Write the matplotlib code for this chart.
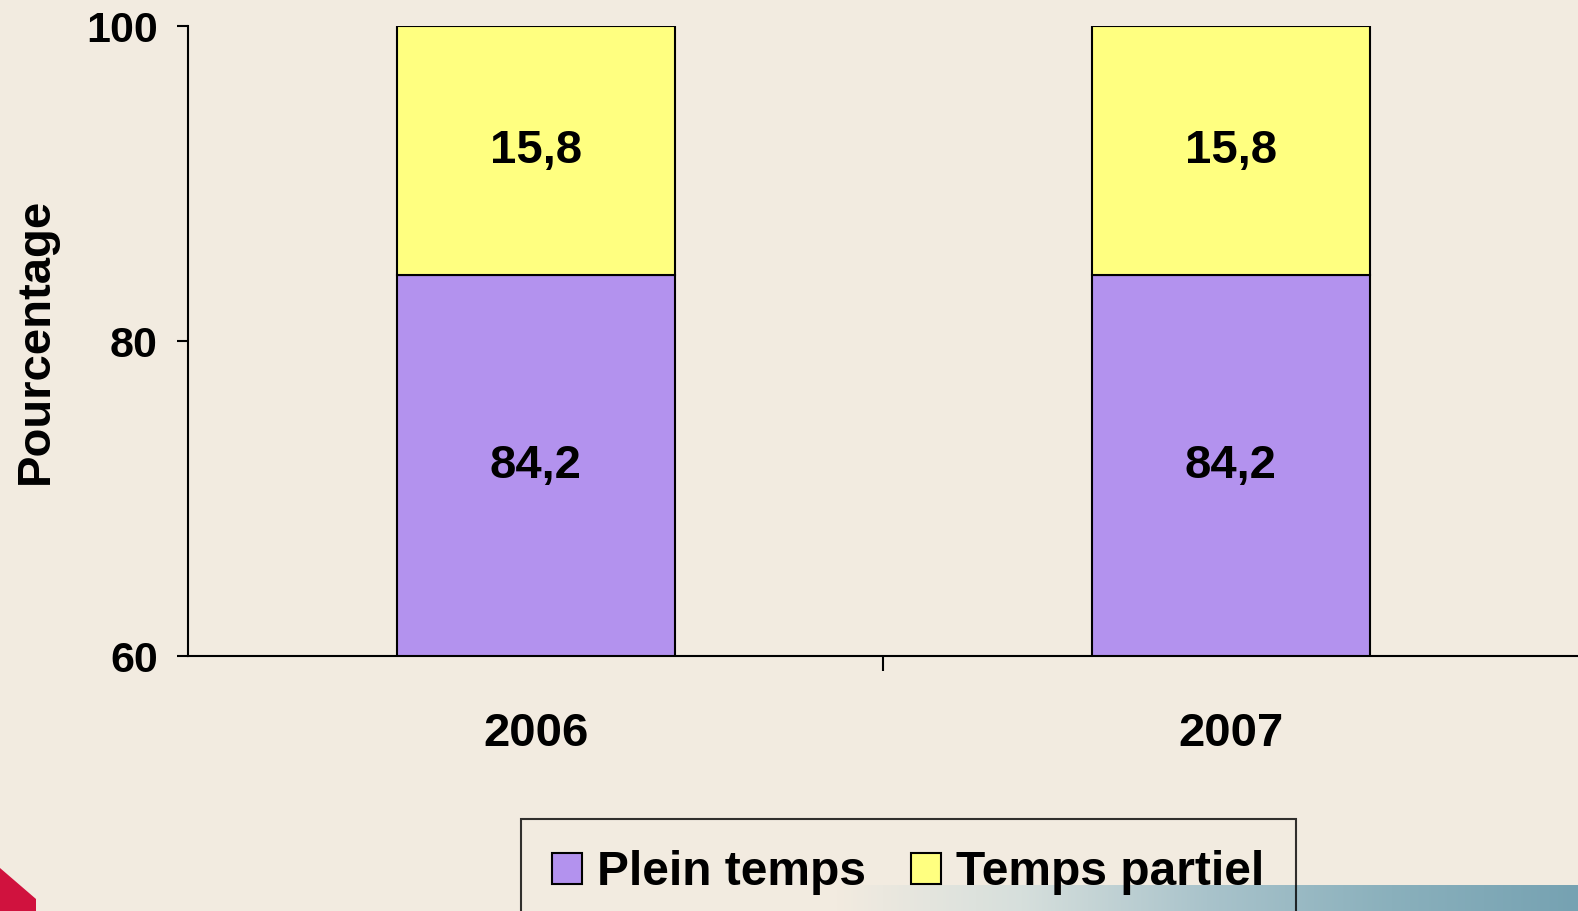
import numpy as np
import matplotlib.pyplot as plt
from matplotlib.patches import Patch, Polygon
from matplotlib.colors import LinearSegmentedColormap

# Répartition des emplois (%)
years = ["2006", "2007"]
plein_temps = [84.2, 84.2]
temps_partiel = [15.8, 15.8]
y_ticks = [60, 80, 100]

BG = "#F2EBE0"
PURPLE = "#B392EE"
YELLOW = "#FFFF80"

plt.rcParams["font.family"] = ["Liberation Sans", "DejaVu Sans"]
plt.rcParams["font.weight"] = "bold"

W, H = 1578, 911
fig = plt.figure(figsize=(W / 100, H / 100), dpi=100, facecolor=BG)

# bande bleue décorative en bas à droite
band = fig.add_axes([0.53, 0.0, 0.47, 0.028], zorder=0)
grad = np.linspace(0, 1, 256).reshape(1, -1)
cmap = LinearSegmentedColormap.from_list(
    "band", [BG, "#D6DFDC", "#A9C3CB", "#8AB0BC", "#76A2B2"])
band.imshow(grad, aspect="auto", cmap=cmap, extent=[0, 1, 0, 1])
band.axis("off")

# coin rouge en bas à gauche
fig.patches.append(Polygon([(0, 43 / H), (36 / W, 12 / H), (36 / W, 0), (0, 0)],
                           closed=True, transform=fig.transFigure,
                           facecolor="#D0123E", edgecolor="none", zorder=0))

ax = fig.add_axes([0.1193, 0.2796, 0.8807, 0.6916], zorder=1)
ax.set_facecolor("none")

x = np.arange(len(years))
w = 0.4
ax.bar(x, plein_temps, w, color=PURPLE, edgecolor="black", linewidth=1.5,
       label="Plein temps")
ax.bar(x, temps_partiel, w, bottom=plein_temps, color=YELLOW,
       edgecolor="black", linewidth=1.5, label="Temps partiel")

ax.set_xlim(-0.5, 1.5)
ax.set_ylim(60, 100)

# étiquettes centrées dans la partie visible de chaque segment
ymin = ax.get_ylim()[0]
for xi, p, t in zip(x, plein_temps, temps_partiel):
    ax.text(xi, (max(ymin, 0) + p) / 2, f"{p:.1f}".replace(".", ","),
            ha="center", va="center", fontsize=34, fontweight="bold")
    ax.text(xi, p + t / 2, f"{t:.1f}".replace(".", ","),
            ha="center", va="center", fontsize=34, fontweight="bold")

ax.set_yticks(y_ticks)
ax.tick_params(axis="y", length=8, width=1.5, pad=14, labelsize=31)
ax.set_xticks(x)
ax.set_xticklabels(years)
ax.set_xticks([0.5], minor=True)
ax.tick_params(axis="x", which="major", length=0, pad=40, labelsize=34)
ax.tick_params(axis="x", which="minor", length=11, width=1.5)

for s in ["top", "right"]:
    ax.spines[s].set_visible(False)
for s in ["left", "bottom"]:
    ax.spines[s].set_linewidth(1.5)

ax.set_ylabel("Pourcentage", fontsize=34, fontweight="bold", labelpad=20)

handles = [Patch(facecolor=PURPLE, edgecolor="black", linewidth=1.5),
           Patch(facecolor=YELLOW, edgecolor="black", linewidth=1.5)]
leg = fig.legend(handles, ["Plein temps", "Temps partiel"], loc="upper center",
                 bbox_to_anchor=(0.5755, 1 - 819 / H), borderaxespad=0,
                 ncol=2, fontsize=34.5, frameon=True, fancybox=False,
                 edgecolor="black", handlelength=0.63, handleheight=0.63,
                 handletextpad=0.31, columnspacing=0.95, borderpad=0.65)
leg.get_frame().set_facecolor("none")
leg.get_frame().set_linewidth(1.5)

fig.savefig("out.png", dpi=100, facecolor=BG)
